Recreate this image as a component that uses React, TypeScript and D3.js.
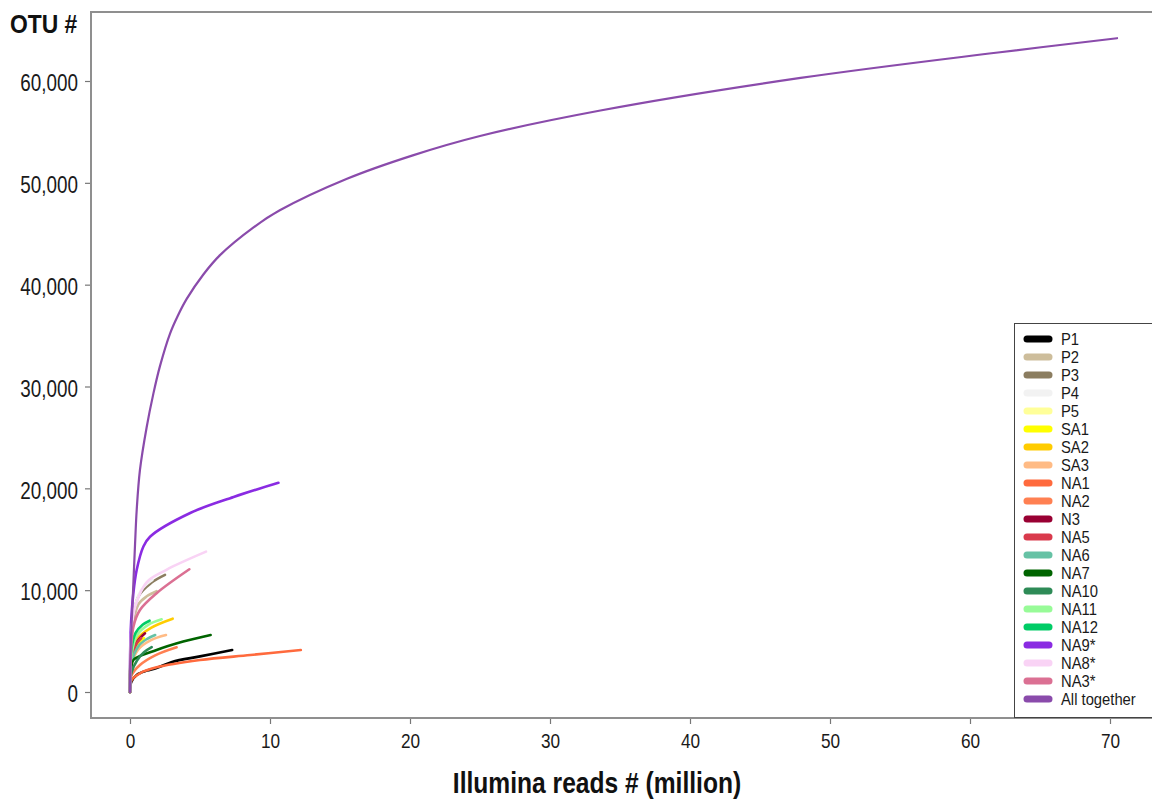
import * as React from "react";
import * as d3 from "d3";
import { select, axisBottom, axisLeft } from "d3";

// series names + colours, legend order
const seriesNames = [
  "P1", "P2", "P3", "P4", "P5", "SA1", "SA2", "SA3", "NA1", "NA2", "N3",
  "NA5", "NA6", "NA7", "NA10", "NA11", "NA12", "NA9*", "NA8*", "NA3*", "All together"
];
const seriesColors = [
  "#000000", "#cdbd9b", "#8b7d60", "#f2f2f2", "#ffff99", "#ffff00", "#ffcc00",
  "#ffbb85", "#ff6a3d", "#ff8052", "#990033", "#d93a4c", "#66c2a5", "#006400",
  "#2e8b57", "#98fb98", "#00cc66", "#8a2be2", "#f9d3f5", "#db7093", "#8a4bab"
];

// rarefaction curves: [reads (million), OTUs]
const P1 = [[0, 0], [0.1, 1000], [0.5, 1700], [1.2, 2100], [1.9, 2350], [3, 2950], [5, 3500], [7.3, 4120]];
const P2 = [[0, 0], [0.15, 6000], [0.6, 8600], [1.2, 9400], [1.9, 9900]];
const P3 = [[0, 0], [0.15, 6500], [0.6, 9400], [1.5, 10700], [2.5, 11500]];
const P4 = [[0, 0], [0.2, 7500], [0.8, 10000], [1.6, 11000]];
const P5 = [[0, 0], [0.1, 2500], [0.4, 3800], [0.8, 4500]];
const SA1 = [[0, 0], [0.1, 3000], [0.5, 4600], [1.0, 5300]];
const SA2 = [[0, 0], [0.1, 3500], [0.5, 5200], [1.5, 6300], [3.05, 7200]];
const SA3 = [[0, 0], [0.1, 2600], [0.6, 4200], [1.5, 5100], [2.57, 5600]];
const NA1 = [[0, 0], [0.12, 1180], [0.71, 1840], [1.9, 2420], [5, 3140], [8.6, 3630], [12.2, 4120]];
const NA2 = [[0, 0], [0.1, 1600], [0.71, 2650], [1.8, 3600], [3.33, 4390]];
const N3 = [[0, 0], [0.1, 3300], [0.5, 4900], [1.07, 5760]];
const NA5 = [[0, 0], [0.1, 3000], [0.4, 4600], [0.8, 5300]];
const NA6 = [[0, 0], [0.1, 2800], [0.6, 4500], [1.2, 5200], [1.8, 5600]];
const NA7 = [[0, 0], [0.1, 2400], [0.24, 3140], [1.9, 4120], [3.8, 4950], [5.76, 5600]];
const NA10 = [[0, 0], [0.1, 1900], [0.5, 3100], [1.0, 3900], [1.55, 4400]];
const NA11 = [[0, 0], [0.1, 3600], [0.5, 5600], [1.3, 6600], [2.26, 7140]];
const NA12 = [[0, 0], [0.1, 4200], [0.4, 5800], [0.9, 6600], [1.4, 7000]];
const NA9 = [[0, 0], [0.05, 6000], [0.24, 9700], [0.48, 12000], [0.95, 14270], [1.43, 15250], [4.3, 17580], [7.4, 19150], [10.6, 20550]];
const NA8 = [[0, 0], [0.1, 6000], [0.4, 8500], [1.2, 10800], [2.6, 12000], [5.43, 13780]];
const NA3 = [[0, 0], [0.05, 3500], [0.24, 6400], [0.71, 8050], [1.9, 9700], [4.24, 12050]];
const ALL = [
  [0, 0], [0.05, 4500], [0.19, 9000], [0.36, 14500], [0.48, 17900], [0.71, 21800], [1.19, 26000],
  [1.67, 29300], [2.14, 32000], [2.86, 35200], [3.4, 36900], [4.05, 38600], [5.24, 41000],
  [6.43, 42900], [8.8, 45600], [10.7, 47300], [15.5, 50400], [20.2, 52700], [25, 54600],
  [33.6, 57100], [47.9, 60300], [62, 62800], [70.5, 64200]
];
const seriesValues = [P1, P2, P3, P4, P5, SA1, SA2, SA3, NA1, NA2, N3, NA5, NA6, NA7, NA10, NA11, NA12, NA9, NA8, NA3, ALL];

const xTicks = [0, 10, 20, 30, 40, 50, 60, 70];
const yTicks = [0, 10000, 20000, 30000, 40000, 50000, 60000];

const FONT = "'Liberation Sans', Arial, sans-serif";
const NARROW = 0.82; // the original uses a condensed Arial

export default function App() {
  const width = 1152;
  const height = 801;
  const frame = { left: 91, top: 12, right: 1153, bottom: 718 };

  const x = d3.scaleLinear().domain([0, 70]).range([130, 1110]);
  const y = d3.scaleLinear().domain([0, 60000]).range([692, 81]);

  const line = d3
    .line<number[]>()
    .x(d => x(d[0]))
    .y(d => y(d[1]))
    .curve(d3.curveCatmullRom.alpha(0.5));

  const styleAxis = (g: any, size: number) => {
    g.select(".domain").remove();
    g.selectAll(".tick line").attr("stroke", "#777").attr("stroke-width", 1.2);
    g.selectAll(".tick text")
      .attr("fill", "#1a1a1a")
      .style("font-family", FONT)
      .style("font-size", size + "px");
  };

  return (
    <svg
      width={width}
      height={height}
      style={{ position: "absolute", left: 0, top: 0, background: "#fff" }}
    >
      {/* curves */}
      <g className="graph">
        {seriesValues.map((vals, i) => (
          <path
            key={seriesNames[i]}
            d={line(vals as any) as any}
            fill="none"
            stroke={seriesColors[i]}
            strokeWidth={i === 20 ? 2.2 : 2.6}
            strokeLinecap="round"
          />
        ))}
      </g>

      {/* frame */}
      <path
        d={`M${frame.right},${frame.top}H${frame.left}V${frame.bottom}H${frame.right}`}
        fill="none"
        stroke="#8f8f8f"
        strokeWidth={2}
      />

      <g
        className="axis axis--x"
        transform={`translate(0,${frame.bottom + 1})`}
        ref={node => {
          if (!node) return;
          select(node)
            .call(axisBottom(x).tickValues(xTicks).tickSize(5).tickPadding(9) as any)
            .call((g: any) => styleAxis(g, 21));
          select(node).selectAll(".tick text").attr("transform", `scale(${NARROW},1)`);
        }}
      />
      <g
        className="axis axis--y"
        transform={`translate(${frame.left - 1},0)`}
        ref={node => {
          if (!node) return;
          select(node)
            .call(
              axisLeft(y)
                .tickValues(yTicks)
                .tickSize(5)
                .tickPadding(7)
                .tickFormat(d3.format(",") as any) as any
            )
            .call((g: any) => styleAxis(g, 23));
          select(node)
            .selectAll(".tick text")
            .attr("dy", "0.42em")
            .attr("x", -12 / NARROW)
            .attr("transform", `scale(${NARROW},1)`);
        }}
      />

      {/* titles */}
      <text
        transform={`translate(10,33) scale(0.88,1)`}
        fontFamily={FONT}
        fontWeight="bold"
        fontSize={26}
        fill="#111"
      >
        OTU #
      </text>
      <text
        transform={`translate(597,793) scale(${NARROW},1)`}
        textAnchor="middle"
        fontFamily={FONT}
        fontWeight="bold"
        fontSize={30}
        fill="#111"
      >
        Illumina reads # (million)
      </text>

      {/* legend */}
      <g className="legend">
        <rect x={1014.5} y={323.5} width={145} height={394} fill="#fff" stroke="#444" strokeWidth={1} />
        {seriesNames.map((name, i) => (
          <g key={name} transform={`translate(0,${339 + i * 18})`}>
            <line x1={1027} x2={1049} y1={0} y2={0} stroke={seriesColors[i]} strokeWidth={7} strokeLinecap="round" />
            <text
              transform={`translate(1061,6) scale(0.87,1)`}
              fontFamily={FONT}
              fontSize={17}
              fill="#1a1a1a"
            >
              {name}
            </text>
          </g>
        ))}
      </g>
    </svg>
  );
}
